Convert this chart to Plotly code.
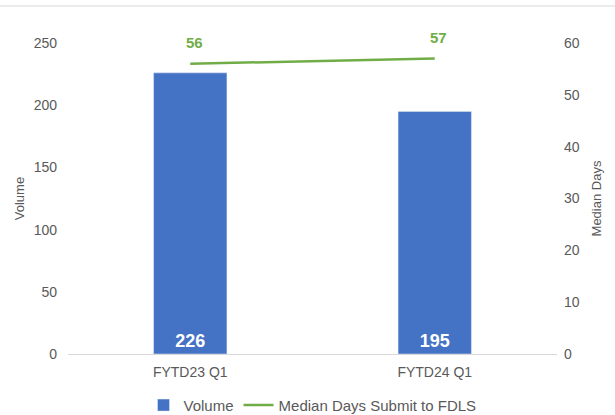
import plotly.graph_objects as go

categories = ['FYTD23 Q1', 'FYTD24 Q1']
volume = [226, 195]
median_days = [56, 57]

blue = '#4472C4'
green = '#70AD47'
grey = '#595959'

fig = go.Figure()

fig.add_trace(go.Bar(
    x=categories, y=volume, name='Volume',
    marker_color=blue, width=0.3,
    text=volume, textposition='inside', insidetextanchor='start',
    textfont=dict(color='white', size=18, family='Liberation Sans, Arial', weight='bold'),
))

fig.add_trace(go.Scatter(
    x=categories, y=median_days, name='Median Days Submit to FDLS',
    mode='lines', line=dict(color=green, width=2.5), yaxis='y2',
))

# data labels above the line points
for c, v in zip(categories, median_days):
    fig.add_annotation(x=c, y=v, yref='y2', text=f'<b>{v}</b>', showarrow=False,
                       yshift=21, xshift=4, font=dict(color=green, size=15))

fig.add_shape(type='line', xref='paper', yref='paper', x0=-0.2, x1=1.2, y0=1.119, y1=1.119,
              line=dict(color='#d9d9d9', width=1))

fig.update_layout(
    width=615, height=415,
    margin=dict(l=68, r=58, t=43, b=61, autoexpand=False),
    plot_bgcolor='white', paper_bgcolor='white',
    font=dict(family='Liberation Sans, Arial', color=grey, size=14),
    bargap=0.7,
    showlegend=True,
    legend=dict(orientation='h', x=0.5, xanchor='center', y=-0.165, yanchor='middle',
                font=dict(size=15, color=grey)),
    xaxis=dict(showline=True, linecolor='#d9d9d9', linewidth=1, ticks='', showgrid=False,
               ticklabelstandoff=5),
    yaxis=dict(range=[0, 250], dtick=50, showgrid=False, zeroline=False, ticklabelstandoff=10,
               title=dict(text='Volume', font=dict(size=13), standoff=6)),
    yaxis2=dict(range=[0, 60], dtick=10, overlaying='y', side='right', showgrid=False,
                zeroline=False, ticklabelstandoff=6,
                title=dict(text='Median Days', font=dict(size=13), standoff=13)),
)

fig.write_html('out.html', config={'displayModeBar': False},
               post_script="document.body.style.margin='0';")
